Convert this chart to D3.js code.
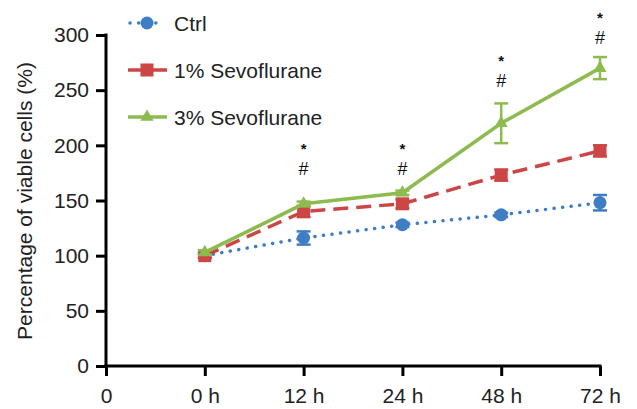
<!DOCTYPE html>
<html>
<head>
<meta charset="utf-8">
<script src="https://cdn.jsdelivr.net/npm/d3@7"></script>
<style>
  body { margin: 0; background: #fff; }
  text { font-family: "Liberation Sans", Arial, sans-serif; }
</style>
</head>
<body>
<svg id="chart"></svg>
<script>
// categories on x axis ("0" is the origin label)
var timeLabels = ["0", "0 h", "12 h", "24 h", "48 h", "72 h"]
var timePoints = ["0 h", "12 h", "24 h", "48 h", "72 h"]
var yTicks = [0, 50, 100, 150, 200, 250, 300]

// series means and errors
var ctrlValues = [100, 116, 128, 137, 148]
var ctrlErrors = [2, 6, 2, 2, 7]
var sevo1Values = [100, 140, 147, 173, 195]
var sevo1Errors = [2, 5, 4, 5, 5]
var sevo3Values = [103, 147, 157, 220, 270]
var sevo3Errors = [2, 2, 2, 18, 10]

// significance marks (level of the asterisk)
var sigPoints = ["12 h", "24 h", "48 h", "72 h"]
var sigLevels = [200, 200, 280, 319]

var series = [
    { name: "Ctrl", values: ctrlValues, errors: ctrlErrors, color: "#3f7ec4", dash: "0.1 8.5", cap: "round", shape: "circle" },
    { name: "1% Sevoflurane", values: sevo1Values, errors: sevo1Errors, color: "#cd4646", dash: "15 8", cap: "butt", shape: "square" },
    { name: "3% Sevoflurane", values: sevo3Values, errors: sevo3Errors, color: "#8dbb4f", dash: null, cap: "butt", shape: "triangle" }
]

var width = 637, height = 409
var fontSize = "21px"

var svg = d3.select("#chart")
    .attr("width", width)
    .attr("height", height)

var x = d3.scalePoint()
    .domain(timeLabels)
    .range([106, 600])

var y = d3.scaleLinear()
    .domain([0, 300])
    .range([366, 35])

// axes
var xAxis = svg.append("g")
    .attr("transform", "translate(0,366)")
    .call(d3.axisBottom(x).tickSizeOuter(0).tickSize(10).tickPadding(12))
xAxis.select(".domain").attr("stroke-width", 3).attr("d", "M104.5,0H601.5")
xAxis.selectAll(".tick line").attr("stroke-width", 3)
xAxis.selectAll(".tick text").attr("font-size", fontSize).attr("fill", "#222")

var yAxis = svg.append("g")
    .attr("transform", "translate(106,0)")
    .call(d3.axisLeft(y).tickValues(yTicks).tickSizeOuter(0).tickSize(10).tickPadding(7))
yAxis.select(".domain").attr("stroke-width", 3).attr("d", "M0,33.5V367.5")
yAxis.selectAll(".tick line").attr("stroke-width", 3)
yAxis.selectAll(".tick text").attr("font-size", fontSize).attr("fill", "#222")

svg.append("text")
    .attr("transform", "translate(25,201) rotate(-90)")
    .attr("text-anchor", "middle")
    .attr("dy", "0.35em")
    .attr("font-size", fontSize)
    .attr("fill", "#222")
    .text("Percentage of viable cells (%)")

var line = d3.line()
    .x(function (d) { return x(d.t) })
    .y(function (d) { return y(d.v) })

function marker(g, shape, color) {
    if (shape == "circle") {
        g.append("circle").attr("r", 6.5).attr("fill", color)
    } else if (shape == "square") {
        g.append("rect").attr("x", -6.5).attr("y", -6.5).attr("width", 13).attr("height", 13).attr("fill", color)
    } else {
        g.append("path").attr("d", d3.symbol().type(d3.symbolTriangle).size(75)()).attr("fill", color)
    }
}

series.forEach(function (s) {
    var pts = timePoints.map(function (t, i) {
        return { t: t, v: s.values[i], e: s.errors[i] }
    })

    svg.append("path")
        .datum(pts)
        .attr("d", line)
        .attr("fill", "none")
        .attr("stroke", s.color)
        .attr("stroke-width", 3.5)
        .attr("stroke-dasharray", s.dash)
        .attr("stroke-linecap", s.cap)

    var g = svg.append("g")
    pts.forEach(function (p) {
        var px = x(p.t)
        var eb = g.append("g").attr("stroke", s.color).attr("stroke-width", 2.5)
        eb.append("line").attr("x1", px).attr("x2", px).attr("y1", y(p.v - p.e)).attr("y2", y(p.v + p.e))
        eb.append("line").attr("x1", px - 7).attr("x2", px + 7).attr("y1", y(p.v - p.e)).attr("y2", y(p.v - p.e))
        eb.append("line").attr("x1", px - 7).attr("x2", px + 7).attr("y1", y(p.v + p.e)).attr("y2", y(p.v + p.e))
        var m = g.append("g").attr("transform", "translate(" + px + "," + y(p.v) + ")")
        marker(m, s.shape, s.color)
    })
})

// significance annotations
sigPoints.forEach(function (t, i) {
    svg.append("text")
        .attr("x", x(t))
        .attr("y", y(sigLevels[i]))
        .attr("dy", "0.58em")
        .attr("text-anchor", "middle")
        .attr("font-size", "15px")
        .attr("font-weight", "bold")
        .attr("fill", "#111")
        .text("*")
    svg.append("text")
        .attr("x", x(t))
        .attr("y", y(sigLevels[i]) + 24)
        .attr("dy", "0.33em")
        .attr("text-anchor", "middle")
        .attr("font-family", "Liberation Serif, serif")
        .attr("font-size", "18px")
        .attr("fill", "#111")
        .text("#")
})

// legend
var legend = svg.append("g")
series.forEach(function (s, i) {
    var ly = 23 + i * 47
    legend.append("line")
        .attr("x1", s.shape == "circle" ? 130 : 128).attr("x2", s.shape == "circle" ? 164 : 167)
        .attr("y1", ly).attr("y2", ly)
        .attr("stroke", s.color)
        .attr("stroke-width", 3.5)
        .attr("stroke-dasharray", s.shape == "circle" ? "0.1 8.5" : null)
        .attr("stroke-linecap", s.cap)
    var m = legend.append("g").attr("transform", "translate(147," + ly + ")")
    marker(m, s.shape, s.color)
    legend.append("text")
        .attr("x", 174)
        .attr("y", ly)
        .attr("dy", "0.36em")
        .attr("font-size", fontSize)
        .attr("fill", "#222")
        .text(s.name)
})
</script>
</body>
</html>
